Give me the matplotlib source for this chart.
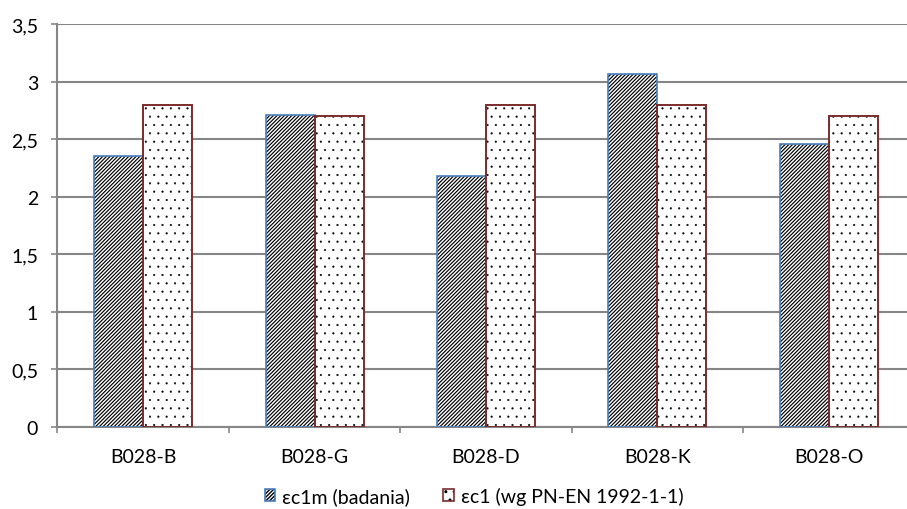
import matplotlib
matplotlib.use("Agg")
import matplotlib.pyplot as plt
import numpy as np
from matplotlib.patches import Patch
from matplotlib.legend_handler import HandlerTuple
from matplotlib.ticker import FuncFormatter, FixedLocator

plt.rcParams['font.family'] = ['Lato', 'DejaVu Sans']

categories = ["B028-B", "B028-G", "B028-D", "B028-K", "B028-O"]
eps_c1m = [2.35, 2.71, 2.18, 3.07, 2.46]
eps_c1 = [2.8, 2.7, 2.8, 2.8, 2.7]
series_names = ["εc1m (badania)", "εc1 (wg PN-EN 1992-1-1)"]

W, H = 907, 510
fig = plt.figure(figsize=(W / 100, H / 100), dpi=100)
left, right, bottom, top = 57.5, 914.5, 428, 25
ax = fig.add_axes([left / W, (H - bottom) / H, (right - left) / W, (bottom - top) / H])

grid_c = "#868686"
blue_edge = "#4A7EBB"
red_edge = "#7B2C2C"
STRIPE = "/" * 9
DOTS = ".."

x = np.arange(len(categories))
bw = 0.286
off = 0.143

with plt.rc_context({'hatch.linewidth': 0.85}):
    ax.bar(x - off, eps_c1m, bw, facecolor="white", edgecolor="black", hatch=STRIPE, linewidth=0, zorder=3)
    hs = Patch(facecolor="white", edgecolor="black", hatch=STRIPE, linewidth=0)
ax.bar(x - off, eps_c1m, bw, fill=False, edgecolor=blue_edge, linewidth=1.2, zorder=4)
with plt.rc_context({'hatch.linewidth': 0.3}):
    ax.bar(x + off, eps_c1, bw, facecolor="white", edgecolor="black", hatch=DOTS, linewidth=0, zorder=3)
    hd = Patch(facecolor="white", edgecolor="black", hatch=DOTS, linewidth=0)
ax.bar(x + off, eps_c1, bw, fill=False, edgecolor=red_edge, linewidth=1.4, zorder=4)

ax.set_xlim(-0.5, len(categories) - 0.5)
ax.set_ylim(0, 3.5)
ax.set_yticks(np.arange(0, 3.51, 0.5))
ax.yaxis.set_major_formatter(FuncFormatter(lambda v, p: ("%g" % v).replace(".", ",")))
ax.grid(axis="y", color=grid_c, linewidth=1.5, zorder=0)
ax.set_axisbelow(True)

ax.xaxis.set_major_locator(FixedLocator(np.arange(-0.5, len(categories), 1.0)))
ax.xaxis.set_major_formatter(FuncFormatter(lambda v, p: ""))
ax.xaxis.set_minor_locator(FixedLocator(x))
ax.set_xticks(x, categories, minor=True)
ax.tick_params(axis="x", which="major", length=4, width=1.2, color=grid_c, direction="out")
ax.tick_params(axis="x", which="minor", length=0, pad=15, labelsize=14, labelcolor="#000000")
ax.tick_params(axis="y", length=4, width=1.2, color=grid_c, pad=10, labelsize=14)

for s in ["top", "right"]:
    ax.spines[s].set_visible(False)
for s in ["left", "bottom"]:
    ax.spines[s].set_color(grid_c)
    ax.spines[s].set_linewidth(1.5)

h1 = (hs, Patch(fill=False, edgecolor=blue_edge, linewidth=1.2))
h2 = (hd, Patch(fill=False, edgecolor=red_edge, linewidth=1.2))
fig.legend([h1, h2], series_names, handler_map={tuple: HandlerTuple(ndivide=1)},
           loc="center", bbox_to_anchor=(474 / W, 1 - 497 / H), ncol=2, frameon=False,
           fontsize=14, handlelength=0.55, handleheight=0.55, handletextpad=0.35,
           columnspacing=1.7, borderpad=0)

fig.savefig("out.png", dpi=100)
